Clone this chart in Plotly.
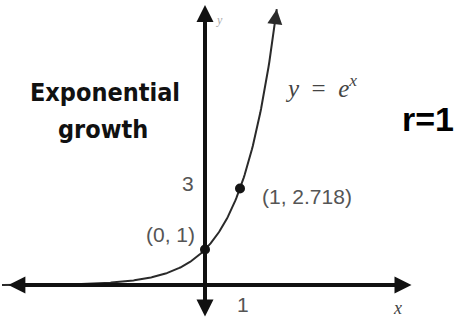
import numpy as np
import plotly.graph_objects as go

# Curve samples: y = e^x
curve_x = np.linspace(-5.8, 2.05, 300)
curve_y = np.exp(curve_x)

# Highlighted points and their labels
point_x = [0, 1]
point_y = [1, 2.718]
point_labels = ["(0, 1)", "(1, 2.718)"]

# Axis tick labels
xtick_vals = [1]
xtick_text = ["1"]
ytick_vals = [3]
ytick_text = ["3"]

X_RANGE = [-5.857, 7.314]
Y_RANGE = [-1.042, 8.028]

fig = go.Figure()

# exponential curve
fig.add_trace(go.Scatter(
    x=curve_x, y=curve_y, mode="lines",
    line=dict(color="#2a2a2a", width=2),
    hoverinfo="skip", showlegend=False,
))

# marked points
fig.add_trace(go.Scatter(
    x=point_x, y=point_y, mode="markers",
    marker=dict(color="#141414", size=10),
    hoverinfo="skip", showlegend=False,
))

annotations = []

# horizontal axis with arrows at both ends
annotations.append(dict(
    x=5.9, y=0, ax=-5.66, ay=0, xref="x", yref="y", axref="x", ayref="y",
    showarrow=True, arrowhead=2, startarrowhead=2, arrowside="end+start",
    arrowsize=0.85, startarrowsize=0.85, arrowwidth=4, arrowcolor="#111", text="",
))
# vertical axis with arrows at both ends
annotations.append(dict(
    x=0, y=7.89, ax=0, ay=-0.93, xref="x", yref="y", axref="x", ayref="y",
    showarrow=True, arrowhead=2, startarrowhead=2, arrowside="end+start",
    arrowsize=0.85, startarrowsize=0.85, arrowwidth=4, arrowcolor="#111", text="",
))
# arrowhead on the curve
tip_x = float(curve_x[-1])
annotations.append(dict(
    x=tip_x, y=float(np.exp(tip_x)), ax=tip_x - 0.05, ay=float(np.exp(tip_x - 0.05)),
    xref="x", yref="y", axref="x", ayref="y",
    showarrow=True, arrowhead=2, arrowsize=1.5, arrowwidth=2, arrowcolor="#2a2a2a", text="",
))

label_font = dict(family="Liberation Sans, sans-serif", size=21, color="#555")

# point labels
annotations.append(dict(x=-1.0, y=1.41, text=point_labels[0], showarrow=False,
                        xref="x", yref="y", font=label_font))
annotations.append(dict(x=2.9, y=2.48, text=point_labels[1], showarrow=False,
                        xref="x", yref="y", font=label_font))

# tick labels
for v, t in zip(xtick_vals, xtick_text):
    annotations.append(dict(x=v + 0.09, y=-0.54, text=t, showarrow=False,
                            xref="x", yref="y", font=label_font))
for v, t in zip(ytick_vals, ytick_text):
    annotations.append(dict(x=-0.49, y=v - 0.13, text=t, showarrow=False,
                            xref="x", yref="y", font=label_font))

# axis names
annotations.append(dict(x=5.49, y=-0.65, text="<i>x</i>", showarrow=False,
                        xref="x", yref="y",
                        font=dict(family="Liberation Serif, serif", size=18, color="#444")))
annotations.append(dict(x=0.4, y=7.46, text="<i>y</i>", showarrow=False,
                        xref="x", yref="y",
                        font=dict(family="Liberation Serif, serif", size=12, color="#aaa")))

# equation
annotations.append(dict(x=3.31, y=5.6, text="<i>y</i>  =  <i>e</i><sup><i>x</i></sup>",
                        showarrow=False, xref="x", yref="y",
                        font=dict(family="Liberation Serif, serif", size=25, color="#444")))

# title text
title_font = dict(family="Liberation Sans Narrow, DejaVu Sans Condensed, DejaVu Sans, sans-serif",
                  size=25, color="#111", weight="bold")
annotations.append(dict(x=-2.87, y=5.42, text="<b>Exponential</b>", showarrow=False,
                        xref="x", yref="y", font=title_font))
annotations.append(dict(x=-2.91, y=4.38, text="<b>growth</b>", showarrow=False,
                        xref="x", yref="y", font=title_font))

# handwritten note
annotations.append(dict(x=6.37, y=4.68, text="<b>r=1</b>", showarrow=False,
                        xref="x", yref="y",
                        font=dict(family="Liberation Sans, sans-serif", size=34, color="#000")))

fig.update_layout(
    width=461, height=322,
    margin=dict(l=0, r=0, t=0, b=0),
    paper_bgcolor="white", plot_bgcolor="white",
    xaxis=dict(range=X_RANGE, visible=False, fixedrange=True),
    yaxis=dict(range=Y_RANGE, visible=False, fixedrange=True),
    annotations=annotations,
    showlegend=False,
)

fig.write_html("out.html", config={"displayModeBar": False})
